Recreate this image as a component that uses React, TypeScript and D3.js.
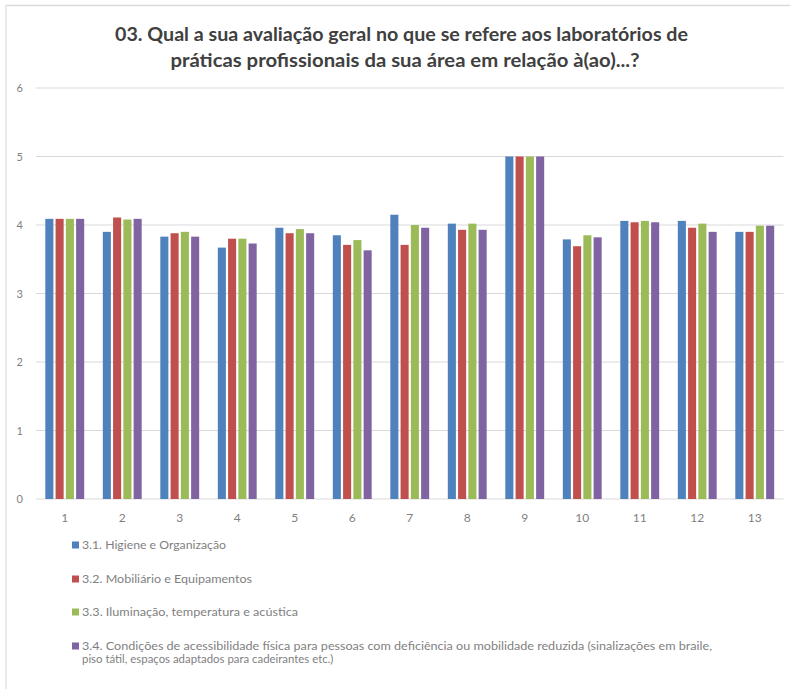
import React from "react";
import * as d3 from "d3";

const categories = ["1", "2", "3", "4", "5", "6", "7", "8", "9", "10", "11", "12", "13"];
const seriesNames = [
  "3.1. Higiene e Organização",
  "3.2. Mobiliário e Equipamentos",
  "3.3. Iluminação, temperatura e acústica",
  "3.4. Condições de acessibilidade física para pessoas com deficiência ou mobilidade reduzida (sinalizações em braile,",
];
const legendExtraLine = "piso tátil, espaços adaptados para cadeirantes etc.)";
const higiene = [4.09, 3.9, 3.83, 3.67, 3.96, 3.85, 4.15, 4.02, 5, 3.79, 4.06, 4.06, 3.9];
const mobiliario = [4.09, 4.11, 3.88, 3.8, 3.88, 3.71, 3.71, 3.93, 5, 3.69, 4.04, 3.96, 3.9];
const iluminacao = [4.09, 4.08, 3.9, 3.8, 3.94, 3.78, 4.0, 4.02, 5, 3.85, 4.06, 4.02, 3.99];
const acessibilidade = [4.09, 4.09, 3.83, 3.73, 3.88, 3.63, 3.96, 3.93, 5, 3.82, 4.04, 3.9, 3.99];
const yTicks = [0, 1, 2, 3, 4, 5, 6];
const titleLines = [
  "03. Qual a sua avaliação geral no que se refere aos laboratórios de",
  "práticas profissionais da sua área em relação à(ao)...?",
];
const colors = ["#4F81BD", "#C0504D", "#9BBB59", "#8064A2"];

const seriesValues = [higiene, mobiliario, iluminacao, acessibilidade];

export default function App() {
  const W = 790;
  const H = 689;
  const left = 36;
  const right = 783.5;
  const top = 88;
  const bottom = 499;

  const x0 = d3.scaleBand<string>().domain(categories).range([left, right]).padding(0);
  const step = x0.bandwidth();
  const groupW = step / 1.4;
  const x1 = d3
    .scaleBand<number>()
    .domain([0, 1, 2, 3])
    .range([(step - groupW) / 2, (step + groupW) / 2]);
  const y = d3.scaleLinear().domain([0, 6]).range([bottom, top]);
  const gap = 2.2;
  const font = "Lato, 'Open Sans', sans-serif";

  const legendY = [545, 579, 612, 646];
  const legendLens = [144, 170, 216, 630];

  return (
    <svg
      width={W}
      height={H}
      style={{ position: "absolute", left: 0, top: 0, background: "#fff" }}
      fontFamily={font}
    >
      <rect x={0} y={0} width={W} height={H} fill="#fff" />
      <line x1={6} x2={W} y1={5.5} y2={5.5} stroke="#d9d9d9" strokeWidth={1.5} />
      <line x1={6} x2={6} y1={5} y2={H} stroke="#e3e3e3" strokeWidth={1.5} />

      {titleLines.map((t, i) => (
        <text
          key={i}
          x={i === 0 ? 401.5 : 405}
          y={i === 0 ? 41 : 67}
          textAnchor="middle"
          fontSize={18}
          fontWeight="bold"
          fill="#404040"
          textLength={i === 0 ? 573 : 469}
          lengthAdjust="spacingAndGlyphs"
        >
          {t}
        </text>
      ))}

      {yTicks.map((t) => (
        <g key={t}>
          <line x1={left} x2={right} y1={y(t)} y2={y(t)} stroke="#d9d9d9" strokeWidth={1} />
          <text x={23} y={y(t) + 4} textAnchor="end" fontSize={11} fill="#7f7f7f">
            {t}
          </text>
        </g>
      ))}

      {categories.map((c, ci) => (
        <g key={c} transform={`translate(${x0(c)},0)`}>
          {seriesValues.map((vals, si) => (
            <rect
              key={si}
              x={(x1(si) as number) + gap / 2}
              y={y(vals[ci])}
              width={x1.bandwidth() - gap}
              height={y(0) - y(vals[ci])}
              fill={colors[si]}
            />
          ))}
          <text x={step / 2} y={522} textAnchor="middle" fontSize={12} fill="#7f7f7f">
            {c}
          </text>
        </g>
      ))}

      {seriesNames.map((n, i) => (
        <g key={i}>
          <rect x={72} y={legendY[i] - 3.5} width={7} height={7} fill={colors[i]} />
          <text
            x={82}
            y={legendY[i] + 4}
            fontSize={11}
            fill="#7f7f7f"
            textLength={legendLens[i]}
            lengthAdjust="spacingAndGlyphs"
          >
            {n}
          </text>
        </g>
      ))}
      <text x={82} y={663} fontSize={11.4} fill="#7f7f7f">
        {legendExtraLine}
      </text>
    </svg>
  );
}
